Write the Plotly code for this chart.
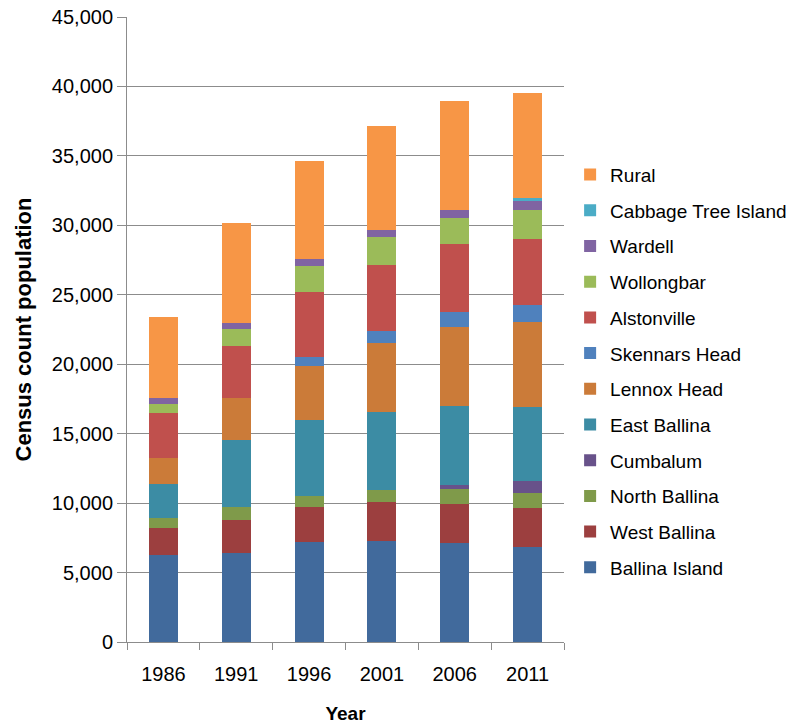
import plotly.graph_objects as go

# Census years (categories on the x axis)
years = ["1986", "1991", "1996", "2001", "2006", "2011"]

# Census count population by locality
ballina_island = [6270, 6430, 7210, 7290, 7120, 6810]
west_ballina = [1920, 2360, 2490, 2790, 2850, 2830]
north_ballina = [720, 940, 815, 850, 1070, 1100]
cumbalum = [0, 0, 0, 0, 280, 850]
east_ballina = [2450, 4840, 5490, 5660, 5650, 5350]
lennox_head = [1900, 2990, 3860, 4910, 5700, 6070]
skennars_head = [0, 0, 620, 900, 1070, 1260]
alstonville = [3260, 3760, 4740, 4740, 4885, 4730]
wollongbar = [650, 1250, 1840, 1990, 1880, 2110]
wardell = [390, 430, 500, 510, 585, 620]
cabbage_tree_island = [0, 0, 0, 0, 0, 210]
rural = [5830, 7180, 7070, 7480, 7835, 7580]

# Stacked bottom to top
series = [
    ("Ballina Island", ballina_island, "#416A9C"),
    ("West Ballina", west_ballina, "#9C3F3F"),
    ("North Ballina", north_ballina, "#7F9A4A"),
    ("Cumbalum", cumbalum, "#68528A"),
    ("East Ballina", east_ballina, "#3C8CA4"),
    ("Lennox Head", lennox_head, "#CB7B39"),
    ("Skennars Head", skennars_head, "#4F81BD"),
    ("Alstonville", alstonville, "#C0504D"),
    ("Wollongbar", wollongbar, "#9BBB59"),
    ("Wardell", wardell, "#8064A2"),
    ("Cabbage Tree Island", cabbage_tree_island, "#4BACC6"),
    ("Rural", rural, "#F79646"),
]

FONT = "Liberation Sans, Arial, sans-serif"
GRID = "#8C8C8C"

fig = go.Figure()
for i, (name, values, color) in enumerate(series):
    fig.add_trace(go.Bar(
        x=years, y=values, name=name,
        legendgroup=name,
        legendrank=len(series) - i,  # legend lists the top of the stack first
        marker=dict(color=color, line=dict(width=0)),
    ))

fig.update_layout(
    barmode="stack",
    bargap=0.6,
    width=804, height=727,
    margin=dict(l=127, r=238, t=17, b=85),
    paper_bgcolor="white",
    plot_bgcolor="white",
    font=dict(family=FONT, size=20, color="black"),
    legend=dict(
        traceorder="grouped",
        x=1.014, xanchor="left",
        y=0.778, yanchor="top",
        tracegroupgap=8,
        font=dict(family=FONT, size=19, color="black"),
        bgcolor="rgba(0,0,0,0)",
    ),
    xaxis=dict(
        type="category",
        automargin=False,
        showline=True, linecolor=GRID, linewidth=1,
        ticks="outside", tickson="boundaries", ticklen=7, tickcolor=GRID,
        showgrid=False,
        tickfont=dict(size=20),
        ticklabelstandoff=14,
        title=dict(text="<b>Year</b>", font=dict(size=19), standoff=22),
    ),
    yaxis=dict(
        range=[0, 45000], dtick=5000, tickformat=",",
        automargin=False,
        showline=True, linecolor=GRID, linewidth=1,
        ticks="outside", ticklen=9, tickcolor=GRID,
        showgrid=True, gridcolor=GRID, gridwidth=1,
        zeroline=False,
        tickfont=dict(size=20),
        title=dict(text="<b>Census count population</b>", font=dict(size=22), standoff=14),
    ),
)

fig.write_html("out.html")
